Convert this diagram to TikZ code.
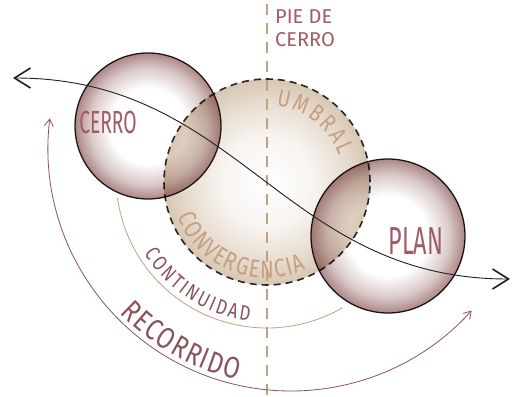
\documentclass[tikz,border=0pt]{standalone}
\usepackage{fontspec}
\usepackage{tikz}
\usetikzlibrary{arrows.meta,decorations.text}

\IfFontExistsTF{FiraSans-Light.otf}
 {\newfontfamily\handplain{FiraSans-Light.otf}
  \newfontfamily\handfont[FakeStretch=0.8]{FiraSans-Light.otf}
  \newfontfamily\handnarrow[FakeStretch=0.6]{FiraSans-Light.otf}}
 {\newfontfamily\handplain{Fira Sans}
  \newfontfamily\handfont[FakeStretch=0.8]{Fira Sans}
  \newfontfamily\handnarrow[FakeStretch=0.6]{Fira Sans}}

\definecolor{mauve}{RGB}{172,134,134}
\definecolor{arena}{RGB}{216,198,178}
\definecolor{tierra}{RGB}{196,160,126}
\definecolor{rojizo}{RGB}{160,92,98}
\definecolor{vino}{RGB}{140,82,92}
\definecolor{trazo}{RGB}{38,30,30}

% sombreado de las esferas
\pgfdeclareradialshading{esfera}{\pgfpoint{0bp}{0bp}}{color(0bp)=(white); color(13bp)=(white); color(20bp)=(mauve!45); color(25bp)=(mauve); color(50bp)=(mauve)}
\pgfdeclareradialshading{halo}{\pgfpoint{0bp}{0bp}}{color(0bp)=(white); color(11bp)=(arena!18); color(20bp)=(arena!65); color(25bp)=(arena); color(50bp)=(arena)}

\begin{document}
\begin{tikzpicture}[
x=1pt, y=1pt,
esfera/.style={circle, draw=trazo, line width=1.3pt, shade, shading=esfera, inner sep=0pt},
halo/.style={circle, draw=black!85, line width=1.6pt, dash pattern=on 7pt off 5pt, shade, shading=halo, inner sep=0pt},
rotulo/.style={text=rojizo, inner sep=0pt},
curvo/.style={decorate, decoration={text along path, text align=fit to path, text={#1}}},
corte/.style={draw=tierra, line width=1.3pt, dash pattern=on 11pt off 8pt},
onda/.style={draw=trazo, line width=0.9pt, {Straight Barb[length=16pt,width=20pt,line width=1.6pt]}-{Straight Barb[length=16pt,width=20pt,line width=1.6pt]}},
continua/.style={draw=tierra, line width=0.8pt},
recorrido/.style={draw=vino, line width=0.8pt, {Straight Barb[length=7pt,width=9pt]}-{Straight Barb[length=7pt,width=9pt]}}
]
\useasboundingbox (0,0) rectangle (513,-396);

\node[halo, minimum size=206pt] (umbral) at (267,-182) {};
\begin{scope}[blend mode=multiply]
\node[esfera, minimum size=146pt] (cerro) at (148,-126) {};
\node[esfera, minimum size=154pt] (plan) at (388,-236) {};
\end{scope}

\coordinate (corte1) at (267,-4);
\coordinate (corte2) at (267,-396);
\draw[corte] (corte1) -- (corte2);

% arcos inferiores
\coordinate (giro) at (267,-177);
\coordinate (vuelta) at (291,-148);
\draw[continua] (giro) ++(188:151) arc[start angle=188, end angle=300, radius=151];
\draw[recorrido] (vuelta) ++(173:243) arc[start angle=173, end angle=318, radius=243];

\coordinate (oeste) at (13,-78);
\coordinate (este) at (510,-279);
\draw[onda] (oeste) .. controls (240,-78) and (283,-279) .. (este);

\node[rotulo, font=\handnarrow\fontsize{32}{32}\selectfont] (cerrotxt) at (108,-122) {CERRO};
\node[rotulo, font=\handnarrow\fontsize{39}{39}\selectfont] (plantxt) at (416,-241) {PLAN};
\node[rotulo, anchor=north west, align=left, font=\handplain\fontsize{20}{23}\selectfont] (pie) at (275,-10) {PIE DE\\CERRO};

\path[curvo={|\handfont\fontsize{24}{24}\selectfont\color{tierra}|UMBRAL}] (umbral.center) ++(83:77) arc[start angle=83, end angle=20, radius=77];
\path[curvo={|\handfont\fontsize{25}{25}\selectfont\color{tierra}|CONVERGENCIA}] (umbral.center) ++(201:96) arc[start angle=201, end angle=294, radius=96];
\path[curvo={|\handfont\fontsize{21}{21}\selectfont\color{vino}|CONTINUIDAD}] (giro) ++(212:145) arc[start angle=212, end angle=263, radius=145];
\path[curvo={|\handfont\fontsize{30}{30}\selectfont\color{vino}|RECORRIDO}] (vuelta) ++(224:238) arc[start angle=224, end angle=257, radius=238];
\end{tikzpicture}
\end{document}
